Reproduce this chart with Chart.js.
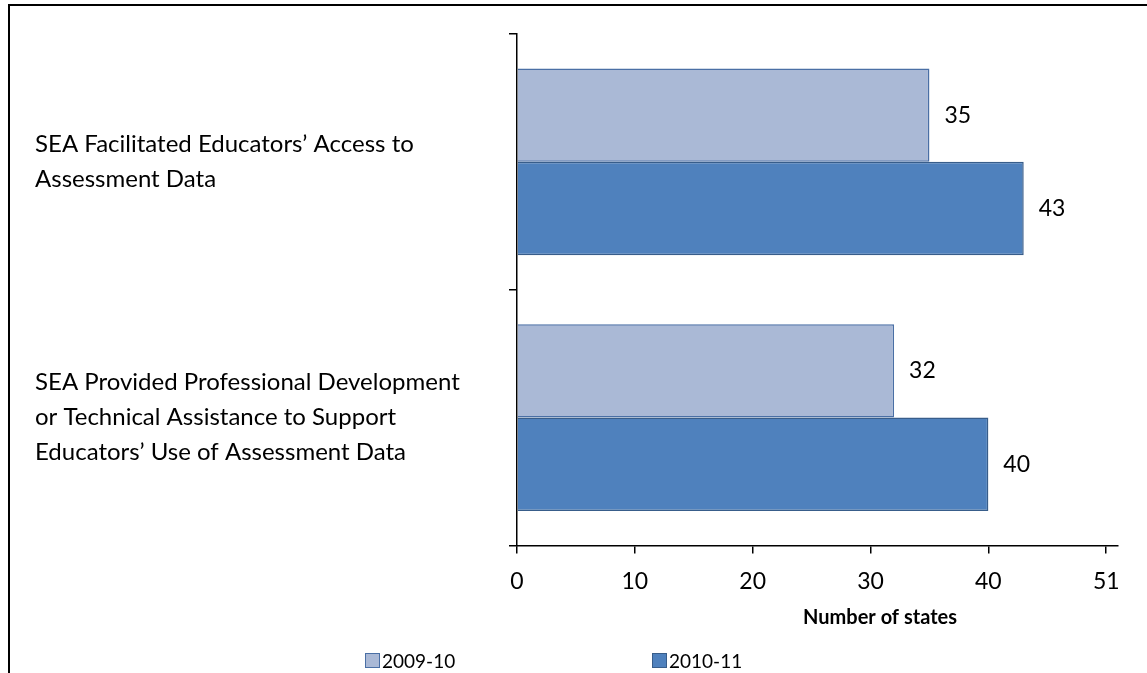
<!DOCTYPE html>
<html>
<head>
<meta charset="utf-8">
<script src="https://cdn.jsdelivr.net/npm/chart.js@4.4.0/dist/chart.umd.min.js"></script>
<style>
  html, body { margin: 0; padding: 0; background: #fff; overflow: hidden; }
  #wrap { position: relative; width: 1147px; height: 673px; }
  #frame { position: absolute; left: 8px; top: 4px; width: 1200px; height: 700px;
           border-left: 2px solid #000; border-top: 2px solid #000; pointer-events: none; }
  #legend { position: absolute; left: 0; top: 649px; width: 1147px; height: 25px;
            font: 19px Lato, sans-serif; color: #000; }
  #legend .item { position: absolute; top: 0; display: flex; align-items: center; }
  #legend .swatch { width: 13px; height: 13px; margin-right: 2px; }
</style>
</head>
<body>
<div id="wrap">
  <canvas id="myChart" width="1147" height="673"></canvas>
  <div id="frame"></div>
  <div id="legend"></div>
</div>
<script>
const categories = [
  ['SEA Facilitated Educators’ Access to', 'Assessment Data'],
  ['SEA Provided Professional Development', 'or Technical Assistance to Support', 'Educators’ Use of Assessment Data']
];
const seriesNames = ['2009-10', '2010-11'];
const values2009 = [35, 32];
const values2010 = [43, 40];
const tickValues = [0, 10, 20, 30, 40, 50];
const tickLabels = ['0', '10', '20', '30', '40', '51'];
const axisMax = 51;
const axisTitle = 'Number of states';

const FONT = 'Lato, sans-serif';

// value labels just right of each bar end
const valueLabels = {
  id: 'valueLabels',
  afterDatasetsDraw(chart) {
    const ctx = chart.ctx;
    ctx.save();
    ctx.font = '23px ' + FONT;
    ctx.fillStyle = '#000';
    ctx.textBaseline = 'middle';
    ctx.textAlign = 'left';
    chart.data.datasets.forEach((ds, i) => {
      chart.getDatasetMeta(i).data.forEach((bar, j) => {
        ctx.fillText(String(ds.data[j]), bar.x + 15, bar.y);
      });
    });
    ctx.restore();
  }
};

// axis title sits a bit right of the axis centre, like the original
const xTitle = {
  id: 'xTitle',
  afterDraw(chart) {
    const s = chart.scales.x;
    const ctx = chart.ctx;
    ctx.save();
    ctx.font = 'bold 20px ' + FONT;
    ctx.fillStyle = '#000';
    ctx.textAlign = 'center';
    ctx.textBaseline = 'middle';
    ctx.fillText(axisTitle, s.left + s.width * 0.604, s.top + 72);
    ctx.restore();
  }
};

const chart = new Chart('myChart', {
  type: 'bar',
  data: {
    labels: categories,
    datasets: [{
      label: seriesNames[0],
      data: values2009,
      backgroundColor: '#AAB9D6',
      borderColor: '#4A6FA5',
      borderWidth: 1.5
    }, {
      label: seriesNames[1],
      data: values2010,
      backgroundColor: '#4F81BD',
      borderColor: '#385D8A',
      borderWidth: 1.5
    }]
  },
  options: {
    indexAxis: 'y',
    responsive: false,
    animation: false,
    barPercentage: 1,
    categoryPercentage: 0.73,
    layout: { padding: { left: 35, top: 34, right: 29, bottom: 64 } },
    plugins: {
      legend: { display: false },
      tooltip: { enabled: false }
    },
    scales: {
      x: {
        min: 0,
        max: axisMax,
        afterBuildTicks(scale) {
          scale.ticks = tickValues.map(v => ({ value: v }));
        },
        afterFit(scale) { scale.paddingLeft = 0; scale.paddingRight = 0; },
        ticks: {
          color: '#000',
          font: { family: FONT, size: 23 },
          padding: 14,
          maxRotation: 0,
          callback: (v, i) => tickLabels[i]
        },
        grid: { drawOnChartArea: false, color: '#000', lineWidth: 1.5, tickLength: 8 },
        border: { color: '#000', width: 1.5 }
      },
      y: {
        afterFit(scale) {
          scale.width = 482;
          scale.paddingTop = 0;
          scale.paddingBottom = 0;
        },
        ticks: {
          color: '#000',
          crossAlign: 'far',
          font: { family: FONT, size: 24, lineHeight: '35px' }
        },
        grid: { drawOnChartArea: false, color: '#000', lineWidth: 1.5, tickLength: 8 },
        border: { color: '#000', width: 1.5 }
      }
    }
  },
  plugins: [valueLabels, xTitle]
});

// legend below the axis, built from the datasets
const legendLeft = [365, 652];
const legendEl = document.getElementById('legend');
chart.data.datasets.forEach((ds, i) => {
  const item = document.createElement('div');
  item.className = 'item';
  item.style.left = legendLeft[i] + 'px';
  const sw = document.createElement('span');
  sw.className = 'swatch';
  sw.style.background = ds.backgroundColor;
  sw.style.border = '1px solid ' + ds.borderColor;
  const tx = document.createElement('span');
  tx.textContent = ds.label;
  item.appendChild(sw);
  item.appendChild(tx);
  legendEl.appendChild(item);
});
</script>
</body>
</html>
